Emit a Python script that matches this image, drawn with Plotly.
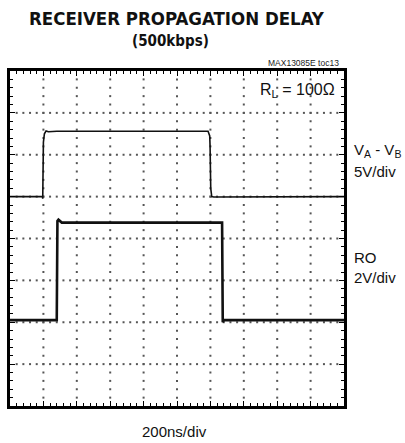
import plotly.graph_objects as go

# ---- data (time in divisions of 200 ns, level in vertical divisions) ----
va_vb_time = [0, 0.97, 0.98, 0.99, 1.00, 1.03, 1.08, 1.15, 1.40, 5.93, 5.96, 5.98, 5.99, 6.01, 6.04, 6.10, 10]
va_vb_level = [5.0, 5.0, 4.95, 5.3, 6.3, 6.5, 6.57, 6.55, 6.56, 6.56, 6.5, 6.45, 6.2, 5.2, 5.0, 4.99, 5.0]

ro_time = [0, 1.38, 1.40, 1.42, 1.45, 1.55, 6.33, 6.35, 6.37, 6.40, 10]
ro_level = [2.05, 2.05, 2.05, 4.42, 4.45, 4.38, 4.38, 4.38, 2.0, 2.05, 2.05]

x_divs = 10
y_divs = 8
sub = 5

# ---- grid dots ----
gx, gy = [], []
for i in range(1, x_divs):
    for k in range(1, y_divs * sub):
        gx.append(i); gy.append(k / sub)
for j in range(1, y_divs):
    for k in range(1, x_divs * sub):
        gx.append(k / sub); gy.append(j)

fig = go.Figure()
fig.add_trace(go.Scatter(x=gx, y=gy, mode="markers",
                         marker=dict(symbol="square", size=2, color="#555", line=dict(width=0)),
                         hoverinfo="skip", showlegend=False))
fig.add_trace(go.Scatter(x=va_vb_time, y=va_vb_level, mode="lines",
                         line=dict(color="#111", width=1.6), showlegend=False))
fig.add_trace(go.Scatter(x=ro_time, y=ro_level, mode="lines",
                         line=dict(color="#111", width=2.6), showlegend=False))

L, R, T, B = 10, 61, 71, 37
W, H = 405, 443
pw, ph = W - L - R, H - T - B

def px(xp):
    return (xp - L) / pw

def py(yp):
    return (H - B - yp) / ph

axis_common = dict(showgrid=False, zeroline=False, showline=True, linewidth=3,
                   linecolor="black", mirror="allticks", ticks="inside",
                   ticklen=5, tickwidth=1, tickcolor="black", showticklabels=False,
                   dtick=1, minor=dict(dtick=0.2, ticks="inside", ticklen=3,
                                       tickwidth=1, tickcolor="black"))
fig.update_xaxes(range=[0, x_divs], **axis_common)
fig.update_yaxes(range=[0, y_divs], **axis_common)

cond = "DejaVu Sans Condensed, Liberation Sans, sans-serif"
reg = "Liberation Sans, Arial, sans-serif"

ann = [
    dict(text="<b>RECEIVER PROPAGATION DELAY</b>", x=px(177), y=py(18.5),
         font=dict(family=cond, size=18.5, color="#111"), xanchor="center", yanchor="middle"),
    dict(text="<b>(500kbps)</b>", x=px(170), y=py(41),
         font=dict(family=cond, size=15, color="#111"), xanchor="center", yanchor="middle"),
    dict(text="MAX13085E toc13", x=px(341), y=py(63),
         font=dict(family=reg, size=8.5, color="#222"), xanchor="right", yanchor="middle"),
    dict(text="R<sub>L</sub> = 100Ω", x=px(337), y=py(90),
         font=dict(family=reg, size=16, color="#111"), xanchor="right", yanchor="middle"),
    dict(text="V<sub>A</sub> - V<sub>B</sub>", x=px(352), y=py(150),
         font=dict(family=reg, size=15, color="#111"), xanchor="left", yanchor="middle"),
    dict(text="5V/div", x=px(352), y=py(171),
         font=dict(family=reg, size=15, color="#111"), xanchor="left", yanchor="middle"),
    dict(text="RO", x=px(352), y=py(257.5),
         font=dict(family=reg, size=15, color="#111"), xanchor="left", yanchor="middle"),
    dict(text="2V/div", x=px(352), y=py(277),
         font=dict(family=reg, size=15, color="#111"), xanchor="left", yanchor="middle"),
    dict(text="200ns/div", x=px(174), y=py(432),
         font=dict(family=reg, size=15, color="#111"), xanchor="center", yanchor="middle"),
]
for a in ann:
    a.update(xref="paper", yref="paper", showarrow=False)

fig.update_layout(width=W, height=H, margin=dict(l=L, r=R, t=T, b=B),
                  paper_bgcolor="white", plot_bgcolor="white",
                  annotations=ann, showlegend=False, hovermode=False)

fig.write_html("out.html", config={"displayModeBar": False, "staticPlot": True},
               post_script="document.body.style.margin='0';document.body.style.overflow='hidden';")
